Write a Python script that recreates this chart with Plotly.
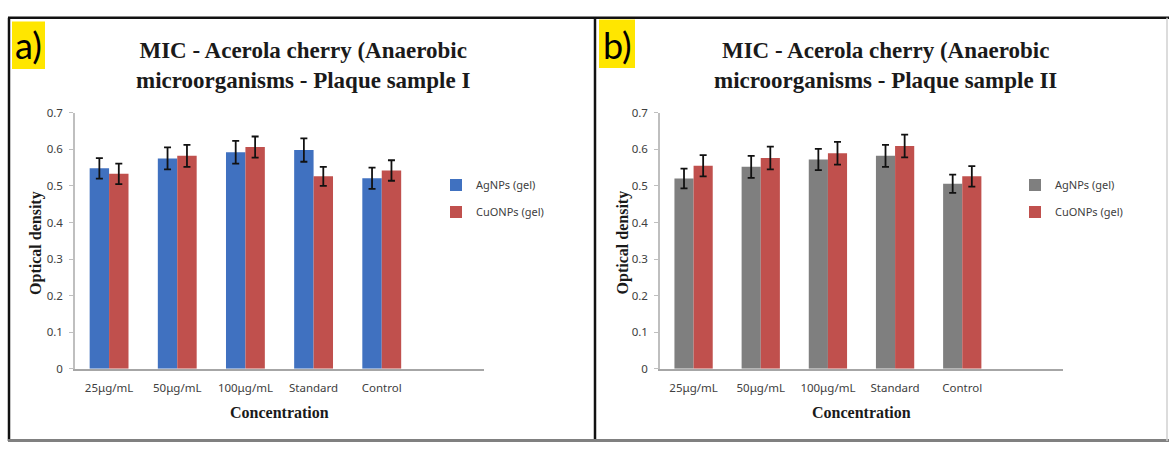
import plotly.graph_objects as go

W, H = 1169, 450

categories = ["25μg/mL", "50μg/mL", "100μg/mL", "Standard", "Control"]
series_names = ["AgNPs (gel)", "CuONPs (gel)"]

# Panel a) Plaque sample I
a_ag = [0.548, 0.575, 0.592, 0.598, 0.521]
a_ag_err = [0.028, 0.030, 0.031, 0.032, 0.029]
a_cu = [0.533, 0.582, 0.606, 0.526, 0.542]
a_cu_err = [0.028, 0.030, 0.029, 0.026, 0.028]

# Panel b) Plaque sample II
b_ag = [0.520, 0.552, 0.572, 0.582, 0.506]
b_ag_err = [0.027, 0.030, 0.029, 0.030, 0.025]
b_cu = [0.555, 0.576, 0.589, 0.609, 0.526]
b_cu_err = [0.029, 0.031, 0.031, 0.031, 0.028]

y_ticks = [0, 0.1, 0.2, 0.3, 0.4, 0.5, 0.6, 0.7]
y_ticklabels = ["0", "0.1", "0.2", "0.3", "0.4", "0.5", "0.6", "0.7"]

title_a = "MIC - Acerola cherry (Anaerobic<br>microorganisms - Plaque sample I"
title_b = "MIC - Acerola cherry (Anaerobic<br>microorganisms - Plaque sample II"

BLUE = "#4071C0"
RED = "#C0504D"
GREY = "#7F7F7F"

def px(x):
    return x / W

def py(y):
    return 1 - y / H

fig = go.Figure()

def err(vals):
    return dict(type="data", array=vals, visible=True, color="#111111",
                thickness=1.8, width=3.5)

fig.add_trace(go.Bar(x=categories, y=a_ag, error_y=err(a_ag_err), name=series_names[0],
                     marker=dict(color=BLUE, line=dict(width=0)), xaxis="x", yaxis="y",
                     legend="legend", legendgroup="a1"))
fig.add_trace(go.Bar(x=categories, y=a_cu, error_y=err(a_cu_err), name=series_names[1],
                     marker=dict(color=RED, line=dict(width=0)), xaxis="x", yaxis="y",
                     legend="legend", legendgroup="a2"))
fig.add_trace(go.Bar(x=categories, y=b_ag, error_y=err(b_ag_err), name=series_names[0],
                     marker=dict(color=GREY, line=dict(width=0)), xaxis="x2", yaxis="y2",
                     legend="legend2", legendgroup="b1"))
fig.add_trace(go.Bar(x=categories, y=b_cu, error_y=err(b_cu_err), name=series_names[1],
                     marker=dict(color=RED, line=dict(width=0)), xaxis="x2", yaxis="y2",
                     legend="legend2", legendgroup="b2"))

tickfont = dict(family="Noto Sans, Lato, sans-serif", size=11.5, color="#404040")
xax = dict(type="category", range=[-0.5, 5.5], showline=True, linecolor="#A6A6A6",
           linewidth=1.5, ticks="", showgrid=False, zeroline=False,
           tickfont=tickfont, ticklabelstandoff=8, fixedrange=True)
yax = dict(range=[0, 0.7], tickvals=y_ticks, ticktext=y_ticklabels, showline=True,
           linecolor="#BFBFBF", linewidth=1.5, ticks="outside", ticklen=4,
           tickcolor="#BFBFBF", showgrid=False, zeroline=False, tickfont=tickfont,
           ticklabelstandoff=4, fixedrange=True)

ydom = [py(373.3), py(108.3)]

fig.update_layout(
    width=W, height=H,
    margin=dict(l=0, r=0, t=0, b=0),
    paper_bgcolor="white", plot_bgcolor="white",
    barmode="group", bargap=0.43, bargroupgap=0,
    xaxis=dict(xax, domain=[px(75), px(484)], anchor="y"),
    yaxis=dict(yax, domain=ydom, anchor="x"),
    xaxis2=dict(xax, domain=[px(660), px(1063)], anchor="y2"),
    yaxis2=dict(yax, domain=ydom, anchor="x2"),
    legend=dict(x=px(436), y=py(168), xanchor="left", yanchor="top",
                font=dict(family="Noto Sans, Lato, sans-serif", size=11, color="#404040"),
                traceorder="grouped", tracegroupgap=8, bgcolor="rgba(0,0,0,0)",
                itemwidth=30),
    legend2=dict(x=px(1015), y=py(168), xanchor="left", yanchor="top",
                 font=dict(family="Noto Sans, Lato, sans-serif", size=11, color="#404040"),
                 traceorder="grouped", tracegroupgap=8, bgcolor="rgba(0,0,0,0)",
                 itemwidth=30),
    showlegend=True,
)

serif_bold = dict(family="Liberation Serif, Times New Roman, serif", color="#1a1a1a")

annotations = []
# Titles
for cx, t in [(303, title_a), (885, title_b)]:
    annotations.append(dict(x=px(cx), y=py(59), xref="paper", yref="paper",
                            text="<b>" + t + "</b>", showarrow=False,
                            font=dict(serif_bold, size=23), xanchor="center",
                            yanchor="middle", align="center"))
# Axis titles
for cx in [279.5, 861.5]:
    annotations.append(dict(x=px(cx), y=py(418), xref="paper", yref="paper",
                            text="<b>Concentration</b>", showarrow=False,
                            font=dict(serif_bold, size=16), xanchor="center",
                            yanchor="middle"))
for cx in [36, 622.5]:
    annotations.append(dict(x=px(cx), y=py(243), xref="paper", yref="paper",
                            text="<b>Optical density</b>", showarrow=False, textangle=-90,
                            font=dict(serif_bold, size=16), xanchor="center",
                            yanchor="middle"))
# Panel labels
for cx, lab in [(28.5, "a)"), (617, "b)")]:
    annotations.append(dict(x=px(cx), y=py(38), xref="paper", yref="paper",
                            text=lab, showarrow=False,
                            font=dict(family="Lato, Noto Sans, sans-serif", size=36,
                                      color="black"),
                            xanchor="center", yanchor="middle"))
fig.update_layout(annotations=annotations)

shapes = [
    # yellow label boxes
    dict(type="rect", xref="paper", yref="paper", x0=px(12), x1=px(45), y0=py(63), y1=py(14),
         fillcolor="#FFE600", line=dict(width=0), layer="below"),
    dict(type="rect", xref="paper", yref="paper", x0=px(599), x1=px(635), y0=py(62), y1=py(12),
         fillcolor="#FFE600", line=dict(width=0), layer="below"),
    # frame lines
    dict(type="line", xref="paper", yref="paper", x0=px(8), x1=1, y0=py(10), y1=py(10),
         line=dict(color="#111111", width=2.5)),
    dict(type="line", xref="paper", yref="paper", x0=px(9), x1=px(9), y0=py(10), y1=py(448),
         line=dict(color="#111111", width=2.5)),
    dict(type="line", xref="paper", yref="paper", x0=px(595), x1=px(595), y0=py(10), y1=py(448),
         line=dict(color="#111111", width=2.5)),
    dict(type="line", xref="paper", yref="paper", x0=px(8), x1=1, y0=py(447.5), y1=py(447.5),
         line=dict(color="#808080", width=3)),
    dict(type="line", xref="paper", yref="paper", x0=px(1167), x1=px(1167), y0=py(10), y1=py(448),
         line=dict(color="#D0D0D0", width=1.5)),
]
fig.update_layout(shapes=shapes)

fig.write_html("out.html", config={"displayModeBar": False},
               post_script="document.body.style.margin='0';document.body.style.overflow='hidden';")
